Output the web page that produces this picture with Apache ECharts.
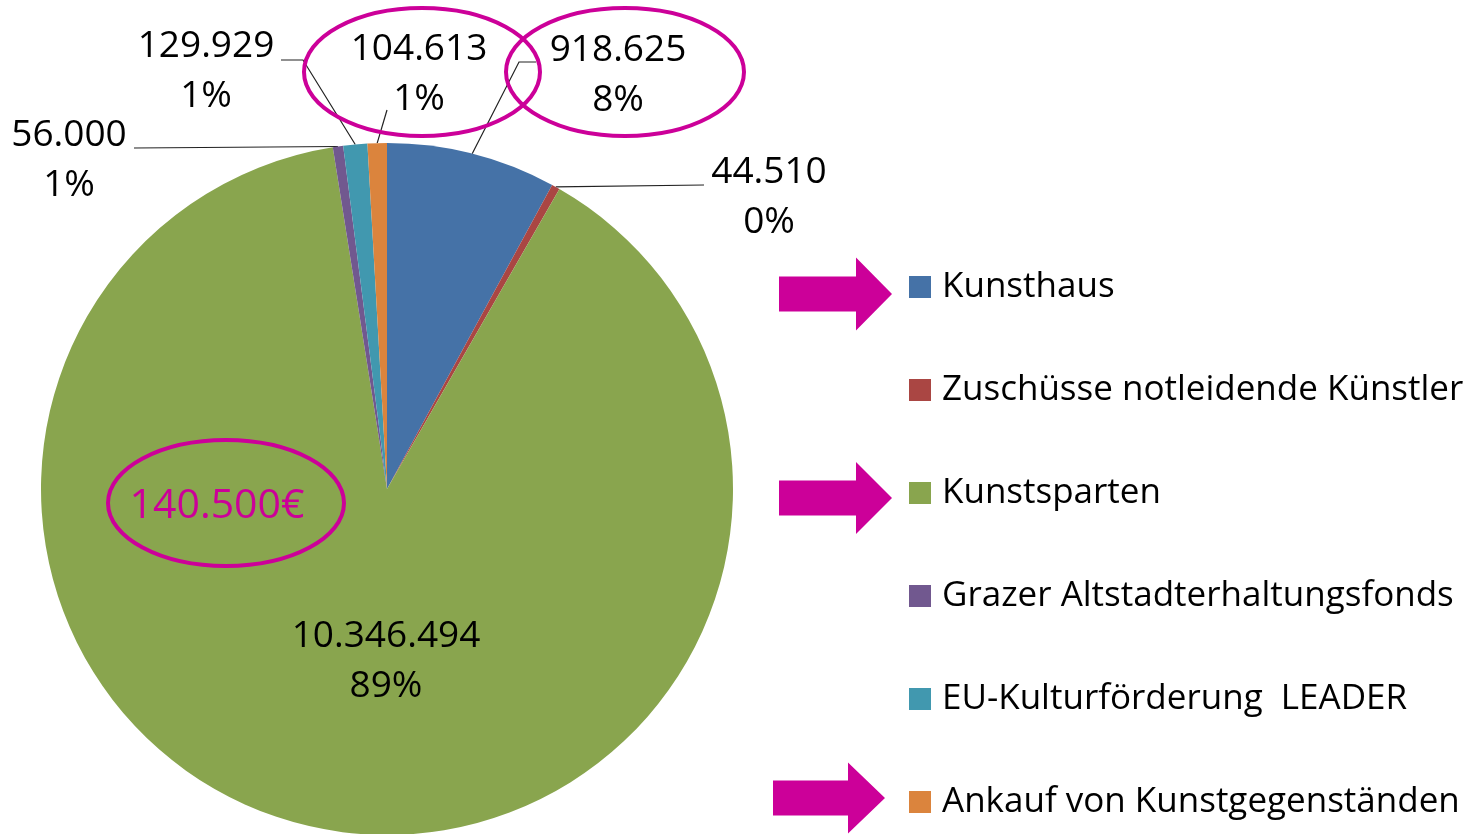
<!DOCTYPE html>
<html lang="de" style="height: 100%">
<head>
  <meta charset="utf-8">
</head>
<body style="height: 100%; margin: 0; background: #fff">
  <div id="container" style="width: 1482px; height: 834px"></div>

  <script type="text/javascript" src="https://cdn.jsdelivr.net/npm/echarts@6/dist/echarts.min.js"></script>

  <script type="text/javascript">
    // data
    const categories = [
      'Kunsthaus',
      'Zuschüsse notleidende Künstler',
      'Kunstsparten',
      'Grazer Altstadterhaltungsfonds',
      'EU-Kulturförderung  LEADER',
      'Ankauf von Kunstgegenständen'
    ];
    const amounts = [918625, 44510, 10346494, 56000, 129929, 104613];
    const shareLabels = ['8%', '0%', '89%', '1%', '1%', '1%'];
    const colors = ['#4572A7', '#AA4643', '#89A54E', '#71588F', '#4198AF', '#DB843D'];

    const FONT = '"Open Sans", sans-serif';
    const MAGENTA = '#CC0099';

    // where each label sits, and the bend points of its leader line
    const labelSpots = [
      { x: 618, y: 75, line: [[519, 62], [536, 62]] },
      { x: 769, y: 197, line: [[704, 185]] },
      { x: 386, y: 661, line: null },
      { x: 69, y: 160, line: [[134, 148]] },
      { x: 206, y: 71, line: [[303, 60], [281, 60]] },
      { x: 419, y: 74, line: [[387, 110]] }
    ];

    function fmt(n) {
      return String(n).replace(/\B(?=(\d{3})+(?!\d))/g, '.');
    }

    var dom = document.getElementById('container');
    var myChart = echarts.init(dom, null, { renderer: 'canvas' });
    var option;

    function arrow(x0, xb, xt, yMid, bodyH, headH) {
      return {
        type: 'polygon',
        shape: {
          points: [
            [x0, yMid - bodyH / 2], [xb, yMid - bodyH / 2], [xb, yMid - headH / 2],
            [xt, yMid], [xb, yMid + headH / 2], [xb, yMid + bodyH / 2], [x0, yMid + bodyH / 2]
          ]
        },
        style: { fill: MAGENTA },
        z: 10
      };
    }

    function ring(cx, cy, rx, ry) {
      return {
        type: 'ellipse',
        shape: { cx: cx, cy: cy, rx: rx, ry: ry },
        style: { fill: null, stroke: MAGENTA, lineWidth: 4 },
        z: 10
      };
    }

    option = {
      backgroundColor: '#fff',
      animation: false,
      color: colors,
      legend: {
        orient: 'vertical',
        left: 909,
        top: 267,
        icon: 'rect',
        itemWidth: 22,
        itemHeight: 22,
        itemGap: 63,
        padding: 0,
        selectedMode: false,
        textStyle: {
          fontFamily: FONT,
          fontSize: 35,
          color: '#000',
          lineHeight: 40,
          padding: [0, 0, 0, 6]
        },
        data: categories
      },
      series: [
        {
          type: 'pie',
          center: [387, 489],
          radius: 346,
          startAngle: 90,
          clockwise: true,
          avoidLabelOverlap: false,
          itemStyle: { borderWidth: 0 },
          emphasis: { disabled: true },
          label: {
            show: true,
            position: 'outside',
            color: '#000',
            fontFamily: FONT,
            fontSize: 37,
            lineHeight: 50,
            align: 'center',
            formatter: function (p) {
              return fmt(p.value) + '\n' + shareLabels[p.dataIndex];
            }
          },
          labelLine: {
            show: true,
            lineStyle: { color: '#222', width: 1.2 }
          },
          labelLayout: function (params) {
            const spot = labelSpots[params.dataIndex];
            const out = { x: spot.x, y: spot.y, align: 'center', verticalAlign: 'middle' };
            if (spot.line && params.labelLinePoints) {
              out.labelLinePoints = [params.labelLinePoints[0]].concat(spot.line);
            }
            return out;
          },
          data: categories.map(function (name, i) {
            const item = { name: name, value: amounts[i] };
            if (i === 2) item.labelLine = { show: false };
            return item;
          })
        }
      ],
      graphic: [
        ring(422, 72, 118, 64),
        ring(625, 72, 119, 64),
        ring(226, 503, 118, 63),
        {
          type: 'text',
          x: 217,
          y: 506,
          style: {
            text: '140.500€',
            fill: MAGENTA,
            font: '41px ' + FONT,
            textAlign: 'center',
            textVerticalAlign: 'middle'
          },
          z: 10
        },
        arrow(779, 856, 892, 294, 35, 73),
        arrow(779, 856, 892, 498, 35, 72),
        arrow(773, 848, 885, 798, 35, 71)
      ]
    };

    if (option && typeof option === 'object') {
      myChart.setOption(option);
    }

    window.addEventListener('resize', myChart.resize);
  </script>
</body>
</html>
